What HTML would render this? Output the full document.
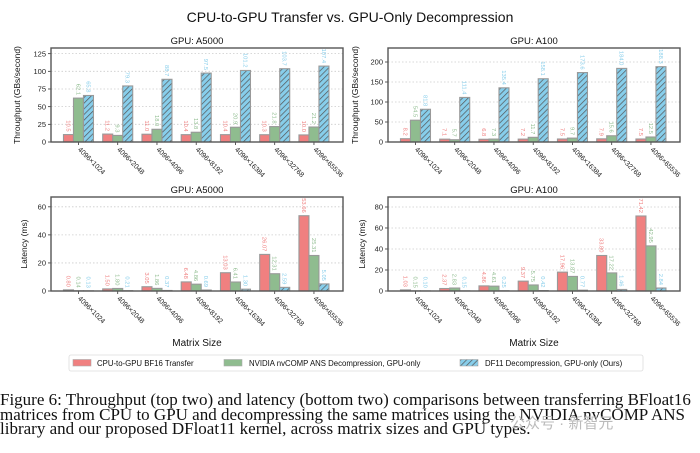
<!DOCTYPE html>
<html><head><meta charset="utf-8">
<style>
html,body{margin:0;padding:0;background:#fff;}
body{width:700px;height:453px;overflow:hidden;position:relative;}
svg{position:absolute;left:0;top:0;}
.cap{position:absolute;left:0;top:393px;width:700px;font-family:"Liberation Serif",serif;font-size:17px;line-height:14.7px;color:#111;white-space:nowrap;}
.wm{position:absolute;left:510px;top:412px;font-family:"Liberation Sans","Noto Sans CJK SC",sans-serif;font-size:15px;color:#bbb;}
</style></head>
<body>
<svg id="chart" width="700" height="453">
  <defs>
    <pattern id="hatch" patternUnits="userSpaceOnUse" width="4" height="4" patternTransform="rotate(45)">
      <rect width="4" height="4" fill="#87ceeb"/>
      <line x1="0" y1="0" x2="0" y2="4" stroke="#555" stroke-width="1.4"/>
    </pattern>
  </defs>
  <text x="350" y="22" text-anchor="middle" font-family="Liberation Sans, sans-serif" font-size="14" fill="#111">CPU-to-GPU Transfer vs. GPU-Only Decompression</text>
</svg>
<div class="cap">Figure 6: Throughput (top two) and latency (bottom two) comparisons between transferring BFloat16<br>matrices from CPU to GPU and decompressing the same matrices using the NVIDIA nvCOMP ANS<br>library and our proposed DFloat11 kernel, across matrix sizes and GPU types.</div>
<div class="wm">公众号 · 新智元</div>
<script>
const categories = ["4096×1024","4096×2048","4096×4096","4096×8192","4096×16384","4096×32768","4096×65536"];
const a5000ThrRed = [10.5,11.2,11.0,10.4,10.4,10.3,10.0];
const a5000ThrGreen = [62.1,9.3,18.0,13.8,20.9,21.8,21.2];
const a5000ThrBlue = [65.8,79.3,88.7,97.5,101.2,103.7,107.4];
const a100ThrRed = [8.2,7.1,6.8,7.2,7.5,7.9,7.5];
const a100ThrGreen = [54.5,5.7,7.3,11.7,9.7,15.6,12.5];
const a100ThrBlue = [81.8,111.4,135.4,158.1,173.6,184.0,188.3];
const a5000LatRed = [0.80,1.50,3.05,6.48,13.03,26.07,53.66];
const a5000LatGreen = [0.14,1.80,1.86,4.86,6.41,12.31,25.31];
const a5000LatBlue = [0.13,0.21,0.37,0.69,1.30,2.59,5.05];
const a100LatRed = [1.03,2.37,4.86,9.37,17.96,33.80,71.42];
const a100LatGreen = [0.15,2.83,4.61,5.75,13.87,17.22,42.95];
const a100LatBlue = [0.10,0.15,0.25,0.42,0.77,1.46,2.84];
const ticksThr5000 = [0,25,50,75,100,125];
const ticksThr100 = [0,50,100,150,200];
const ticksLat5000 = [0,20,40,60];
const ticksLat100 = [0,20,40,60,80];

const NS = "http://www.w3.org/2000/svg";
const svg = document.getElementById("chart");
function mk(tag, attrs, parent){
  const e = document.createElementNS(NS, tag);
  for (const k in attrs) e.setAttribute(k, attrs[k]);
  (parent||svg).appendChild(e);
  return e;
}
const colors = ["#f08080","#8fbc8f","url(#hatch)"];
const labelColors = ["#f08080","#8fbc8f","#87ceeb"];

function panel(name, L, R, T, B, ymax, ticks, series, title, ylabel, ylabelX, dec, showX){
  const g = mk("g", {});
  
  
  const x0 = -0.7, x1 = 6.74;
  const xs = v => L + (v - x0) / (x1 - x0) * (R - L);
  const ys = v => B - v / ymax * (B - T);
  ticks.forEach(t => {
    const gl = mk("line", {x1:L, x2:R, y1:ys(t), y2:ys(t), stroke:"#ccc", "stroke-width":0.8, "stroke-dasharray":"1.5,2"}, g);
    
    
    mk("line", {x1:L-3, x2:L, y1:ys(t), y2:ys(t), stroke:"#333", "stroke-width":0.8}, g);
    const tl = mk("text", {x:L-5, y:ys(t)+2.6, "text-anchor":"end", "font-family":"Liberation Sans, sans-serif", "font-size":7.5, fill:"#222"}, g);
    tl.textContent = t;
    
    
  });
  const bw = 10;
  categories.forEach((c, i) => {
    series.forEach((s, j) => {
      const v = s[i];
      const bx = xs(i) + (j - 1.5) * bw;
      const r = mk("rect", {x:bx, y:ys(v), width:bw, height:B - ys(v), fill:colors[j], stroke:"#999", "stroke-width":1.1}, g);
      
      
      const lx = bx + bw/2 - 2, ly = ys(v) - 3;
      const t = mk("text", {x:lx, y:ly, transform:"rotate(90 " + lx + " " + ly + ")", "text-anchor":"end", "font-family":"Liberation Sans, sans-serif", "font-size":5.8, fill:labelColors[j]}, g);
      t.textContent = v.toFixed(dec);
      
      
    });
    const cx = xs(i);
    mk("line", {x1:cx, x2:cx, y1:B, y2:B+3, stroke:"#333", "stroke-width":0.8}, g);
    const tx = cx - 1, ty = B + 8;
    const xl = mk("text", {x:tx, y:ty, transform:"rotate(45 " + tx + " " + ty + ")", "font-family":"Liberation Sans, sans-serif", "font-size":7, fill:"#222"}, g);
    xl.textContent = c;
    
    
  });
  const fr = mk("rect", {x:L, y:T, width:R-L, height:B-T, fill:"none", stroke:"#555", "stroke-width":1.4}, g);
  
  
  const tt = mk("text", {x:(L+R)/2, y:T-4, "text-anchor":"middle", "font-family":"Liberation Sans, sans-serif", "font-size":9.5, fill:"#111"}, g);
  tt.textContent = title;
  
  
  const yl = mk("text", {x:ylabelX, y:(T+B)/2, transform:"rotate(-90 " + ylabelX + " " + ((T+B)/2) + ")", "text-anchor":"middle", "font-family":"Liberation Sans, sans-serif", "font-size":8.5, fill:"#111"}, g);
  yl.textContent = ylabel;
  
  
  if (showX){
    const xt = mk("text", {x:(L+R)/2, y:346, "text-anchor":"middle", "font-family":"Liberation Sans, sans-serif", "font-size":10, fill:"#111"}, g);
    xt.textContent = "Matrix Size";
    
    
  }
}
panel("throughput-a5000", 51, 343, 48, 142, 133, ticksThr5000, [a5000ThrRed,a5000ThrGreen,a5000ThrBlue], "GPU: A5000", "Throughput (GBs/second)", 20, 1, false);
panel("throughput-a100", 388, 680, 48, 142, 235, ticksThr100, [a100ThrRed,a100ThrGreen,a100ThrBlue], "GPU: A100", "Throughput (GBs/second)", 358, 1, false);
panel("latency-a5000", 51, 343, 197, 291, 67, ticksLat5000, [a5000LatRed,a5000LatGreen,a5000LatBlue], "GPU: A5000", "Latency (ms)", 27, 2, true);
panel("latency-a100", 388, 680, 197, 291, 89.5, ticksLat100, [a100LatRed,a100LatGreen,a100LatBlue], "GPU: A100", "Latency (ms)", 365, 2, true);

const lg = mk("g", {});


mk("rect", {x:69, y:355, width:574, height:16, rx:2, fill:"#fff", stroke:"#ddd", "stroke-width":0.8}, lg);
const legItems = [["CPU-to-GPU BF16 Transfer",73,97],["NVIDIA nvCOMP ANS Decompression, GPU-only",224,249],["DF11 Decompression, GPU-only (Ours)",460,485]];
legItems.forEach((it, j) => {
  const p = mk("rect", {x:it[1], y:359.5, width:18, height:6.5, fill:colors[j], stroke:"#aaa", "stroke-width":0.6}, lg);
  
  
  const t = mk("text", {x:it[2], y:366, "font-family":"Liberation Sans, sans-serif", "font-size":7.8, fill:"#111"}, lg);
  t.textContent = it[0];
  
  
});
</script>
</body></html>
